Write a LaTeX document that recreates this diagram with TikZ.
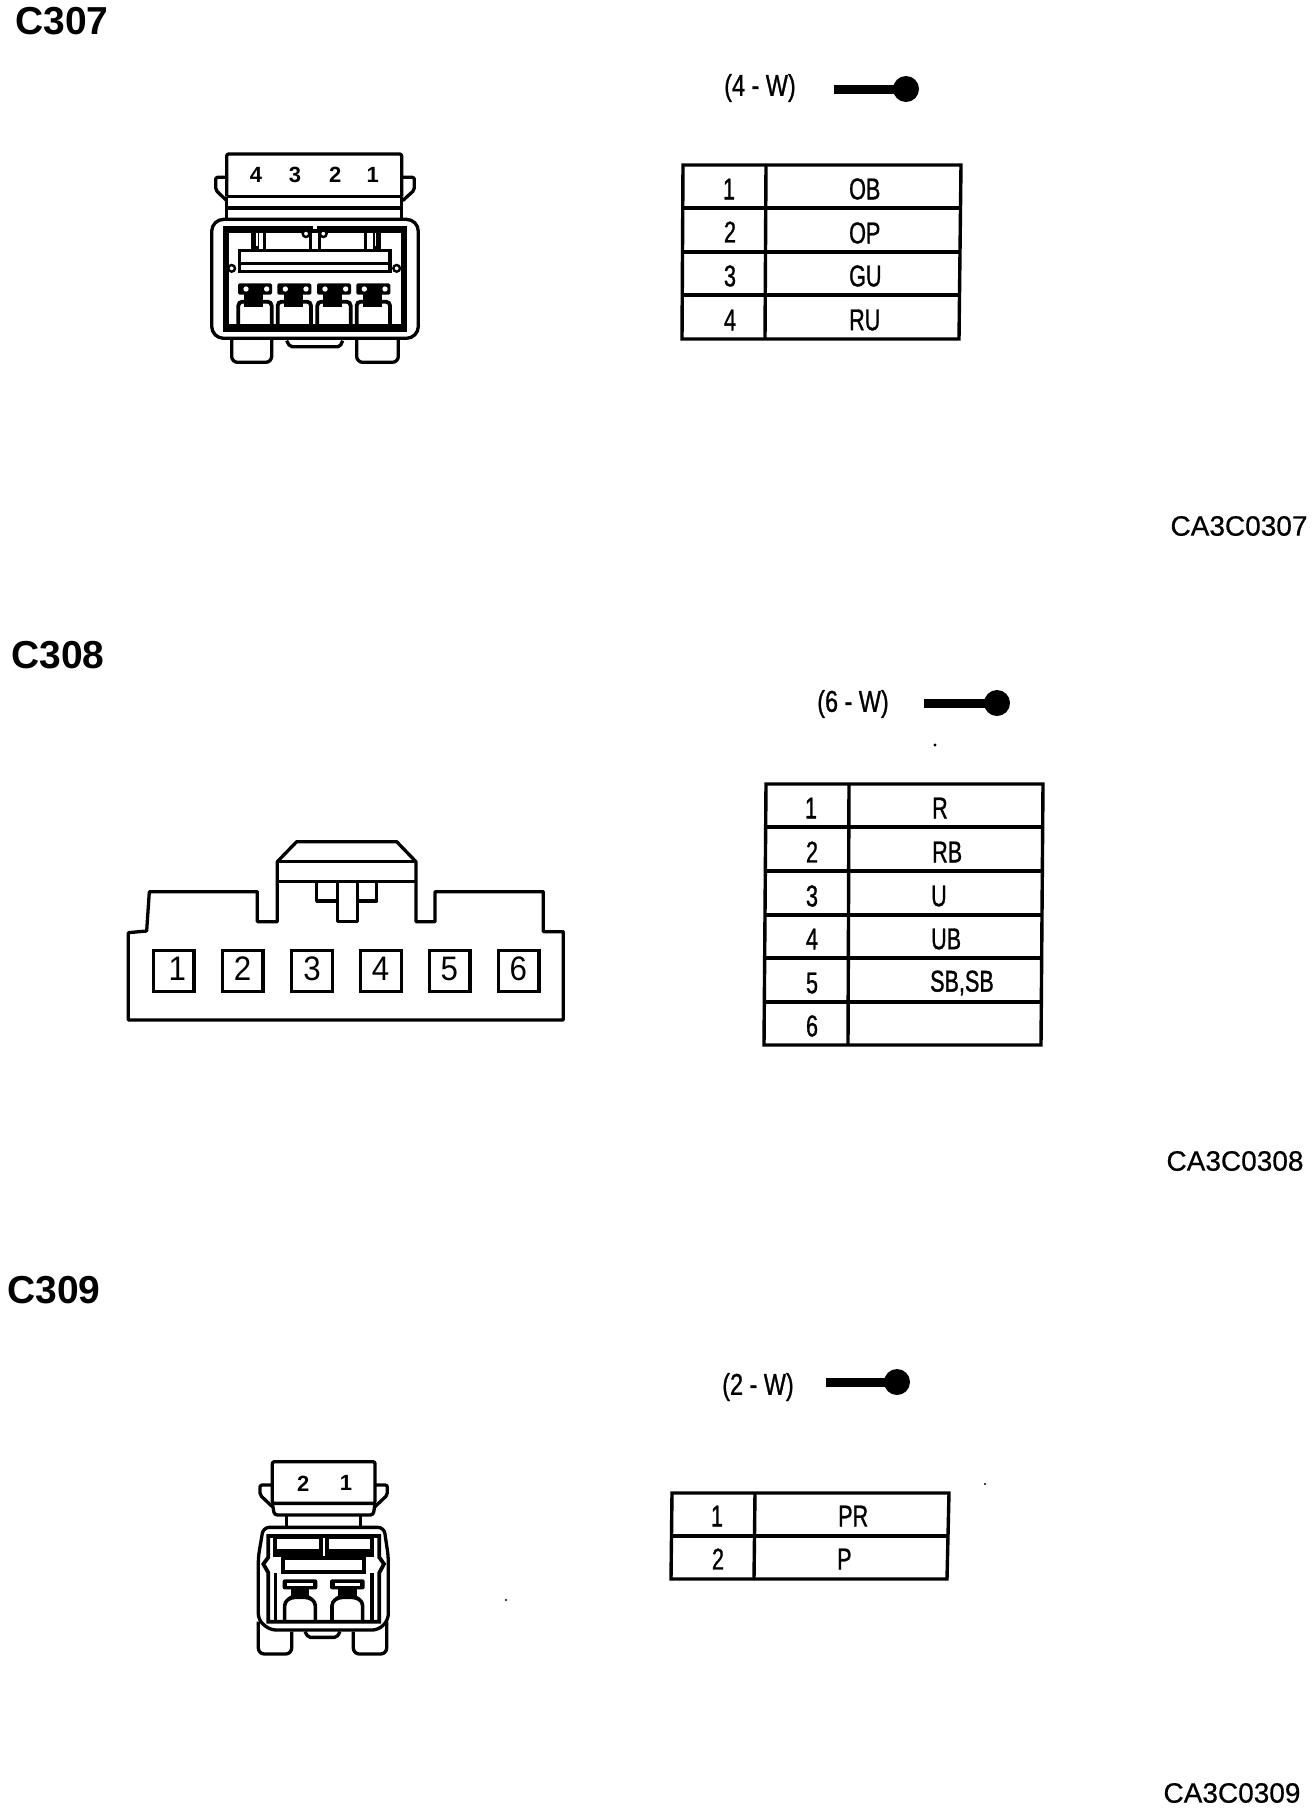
\documentclass[tikz,border=0pt]{standalone}
\usepackage{fontspec}
\setmainfont{Liberation Sans}
\newfontfamily\heavyfont[FakeBold=1.2]{Liberation Sans}
\newfontfamily\semifont[FakeBold=.6]{Liberation Sans}
\tikzset{
  ln/.style={line width=3.3pt,line join=round},
  tbl/.style={line width=3.4pt,line join=miter},
  lab/.style={font=\fontsize{39}{40}\selectfont\bfseries,inner sep=0pt},
  code/.style={font=\semifont\fontsize{28}{29}\selectfont,inner sep=0pt},
  cell/.style={font=\heavyfont\fontsize{30}{30}\selectfont,inner sep=0pt,xscale=.72},
  cellv/.style={cell,anchor=west},
  wire/.style={font=\heavyfont\fontsize{30}{30}\selectfont,inner sep=0pt,xscale=.78},
  pinb/.style={font=\fontsize{22}{23}\selectfont\bfseries,inner sep=0pt},
  pinc/.style={font=\fontsize{34}{35}\selectfont,inner sep=0pt,xscale=.92},
  speck/.style={fill=black,draw=none},
}
\newcommand{\ballmark}[3]{% x start, y, x centre
  \draw[line width=9pt] (#1,#2) -- (#3,#2);
  \fill (#3,#2) circle (13);
}
\newcommand{\termfour}[1]{% C307 terminal, centred at zoomed x
  \begin{scope}[shift={(#1*1pt/3,0)}]
    \fill[rounded corners=1.5pt] (-51,460) rectangle (51,494);
    \fill[white] (-27,477) circle (8) (35,477) circle (8);
    \fill (-32,492) rectangle (25,530);
    \draw[line width=3.8pt,rounded corners=4pt] (-50,592) -- (-50,515) -- (50,515) -- (50,592);
  \end{scope}
}
\newcommand{\termtwo}[1]{% C309 terminal
  \begin{scope}[shift={(#1*1pt/3,0)}]
    \fill[rounded corners=2pt] (-52,388) rectangle (52,418);
    \fill[white] (-38,398) rectangle (38,407);
    \fill (-28,418) rectangle (28,445);
    \draw[line width=3.6pt,rounded corners=4pt] (-46,510) -- (-46,455) -- (-26,442) -- (26,442) -- (46,455) -- (46,510);
  \end{scope}
}
\begin{document}
\begin{tikzpicture}[x=1pt,y=-1pt]
\useasboundingbox (0,0) rectangle (1312,1808);
\fill[white] (0,0) rectangle (1312,1808);

% ---------- headings and codes ----------
\node[lab] (h307) at (62,21) {C307};
\node[lab] (h308) at (58,655) {C308};
\node[lab] (h309) at (54,1290) {C309};
\node[code] (c307) at (1239,526) {CA3C0307};
\node[code] (c308) at (1235,1161) {CA3C0308};
\node[code] (c309) at (1232,1793) {CA3C0309};

% ---------- wire marks ----------
\node[wire] (w307) at (760,88) {(4 - W)};
\ballmark{834}{89}{906}
\node[wire] (w308) at (853,704) {(6 - W)};
\ballmark{924}{703}{997}
\node[wire] (w309) at (758,1387) {(2 - W)};
\ballmark{826}{1382}{897}

% ---------- table C307 ----------
\draw[tbl] (683,165) -- (961,165) -- (959,339) -- (682,339) -- cycle;
\draw[tbl] (766,165) -- (765,339);
\draw[tbl] (683,208) -- (960,208);
\draw[tbl] (682,252) -- (960,252);
\draw[tbl] (682,295) -- (959,295);
\node[cell] (a1) at (729,189) {1};
\node[cell] (a2) at (730,232) {2};
\node[cell] (a3) at (730,276) {3};
\node[cell] (a4) at (730,320) {4};
\node[cellv] (av1) at (849,189) {OB};
\node[cellv] (av2) at (849,233) {OP};
\node[cellv] (av3) at (849,276) {GU};
\node[cellv] (av4) at (849,320) {RU};

% ---------- table C308 ----------
\draw[tbl] (766,784) -- (1043,784) -- (1041,1045) -- (764,1045) -- cycle;
\draw[tbl] (849,784) -- (848,1045);
\draw[tbl] (766,827) -- (1043,827);
\draw[tbl] (765,871) -- (1042,871);
\draw[tbl] (765,915) -- (1042,915);
\draw[tbl] (765,958) -- (1041,958);
\draw[tbl] (764,1002) -- (1041,1002);
\node[cell] (b1) at (811,808) {1};
\node[cell] (b2) at (812,852) {2};
\node[cell] (b3) at (812,896) {3};
\node[cell] (b4) at (812,939) {4};
\node[cell] (b5) at (812,983) {5};
\node[cell] (b6) at (812,1026) {6};
\node[cellv] (bv1) at (932,808) {R};
\node[cellv] (bv2) at (932,852) {RB};
\node[cellv] (bv3) at (931,896) {U};
\node[cellv] (bv4) at (931,939) {UB};
\node[cellv] (bv5) at (930,983) {SB,SB};

% ---------- table C309 ----------
\draw[tbl] (672,1493) -- (949,1493) -- (947,1579) -- (671,1579) -- cycle;
\draw[tbl] (755,1493) -- (754,1579);
\draw[tbl] (672,1536) -- (948,1536);
\node[cell] (d1) at (717,1516) {1};
\node[cell] (d2) at (718,1559) {2};
\node[cellv] (dv1) at (838,1516) {PR};
\node[cellv] (dv2) at (837,1559) {P};

% specks
\fill[speck] (935,745) circle (1.6) (985,1484) circle (1.2) (506,1600) circle (1.2);

% ---------- connector C307 ----------
\begin{scope}[shift={(180pt,-130pt)},x=1pt/3,y=-1pt/3]
  \draw[ln,rounded corners=2pt] (140,200) -- (140,72) -- (665,72) -- (665,200);
  \draw[ln] (140,200) -- (665,200) (140,234) -- (665,234);
  \draw[ln] (140,200) -- (140,268) (665,200) -- (665,268);
  \draw[ln,rounded corners=2pt] (140,142) -- (107,142) -- (107,180) -- (140,212);
  \draw[ln,rounded corners=2pt] (665,142) -- (703,142) -- (703,180) -- (668,212);
  \draw[ln,rounded corners=12pt] (95,268) rectangle (715,625);
  \draw[line width=6.5pt] (138,298) rectangle (672,592);
  \fill (128,582) rectangle (682,606);
  % posts under the top bar
  \fill (213,298) rectangle (237,362);
  \fill (578,298) rectangle (603,362);
  \fill[white] (229,308) rectangle (234,348);
  \fill[white] (584,308) rectangle (589,348);
  \draw[line width=3pt] (252,305) -- (252,362) (392,305) -- (392,362);
  \draw[line width=3pt] (418,305) -- (418,362) (557,305) -- (557,362);
  \fill (237,288) rectangle (578,310);
  \fill[white] (398,289) rectangle (412,296);
  \draw[line width=2.4pt,fill=white] (378,311) circle (10) (430,311) circle (10);
  % bar
  \draw[line width=3.4pt] (178,362) rectangle (630,425);
  \draw[line width=3.4pt] (178,400) -- (630,400);
  \draw[line width=2.4pt,fill=white] (155,415) circle (10) (650,415) circle (10);
  % terminals
  \termfour{225}
  \termfour{343}
  \termfour{462}
  \termfour{580}
  % feet
  \draw[ln,rounded corners=6pt] (155,628) -- (155,697) -- (275,697) -- (275,628);
  \draw[ln,rounded corners=6pt] (530,628) -- (530,697) -- (655,697) -- (655,628);
  \draw[ln,rounded corners=2pt] (320,632) -- (330,650) -- (480,650) -- (488,632);
  \node[pinb] (p4) at (228,135) {4};
  \node[pinb] (p3) at (345,135) {3};
  \node[pinb] (p2) at (466,135) {2};
  \node[pinb] (p1) at (578,135) {1};
\end{scope}

% ---------- connector C308 ----------
\begin{scope}[shift={(110pt,-820pt)},x=1pt/3,y=-1pt/3]
  \draw[ln] (55,338) -- (110,333) -- (118,215) -- (442,215) -- (442,305) -- (502,305) -- (502,125)
    -- (560,65) -- (860,65) -- (918,125) -- (918,305) -- (975,305) -- (975,215) -- (1300,215)
    -- (1300,335) -- (1360,335) -- (1360,600) -- (55,600) -- cycle;
  \draw[ln] (502,125) -- (918,125) (502,185) -- (918,185);
  \draw[ln] (620,185) -- (620,243) -- (682,243) (800,185) -- (800,243) -- (742,243);
  \draw[ln] (682,188) -- (682,305) -- (742,305) -- (742,188);
  \foreach \xa/\dx/\n in {130/72/1,337/61/2,545/61/3,752/60/4,958/60/5,1165/60/6}{
    \draw[line width=3.6pt] (\xa,392) rectangle (\xa+122,515);
    \node[pinc] (q\n) at (\xa+\dx,447) {\n};
  }
\end{scope}

% ---------- connector C309 ----------
\begin{scope}[shift={(240pt,-1450pt)},x=1pt/3,y=-1pt/3]
  \draw[ln,rounded corners=2pt] (97,160) -- (97,35) -- (405,35) -- (405,160) -- cycle;
  \draw[ln,rounded corners=3pt] (97,160) -- (103,195) -- (400,195) -- (405,160);
  \draw[ln] (140,195) -- (140,232) (362,195) -- (362,232);
  \draw[ln,rounded corners=2pt] (97,105) -- (60,105) -- (60,135) -- (97,170);
  \draw[ln,rounded corners=2pt] (405,105) -- (442,105) -- (442,135) -- (405,170);
  \draw[ln,rounded corners=6pt] (70,232) -- (432,232) -- (445,320) -- (445,510) -- (415,540)
    -- (90,540) -- (55,510) -- (55,320) -- cycle;
  \draw[line width=3.8pt] (85,258) -- (85,322) -- (70,342) -- (85,368) -- (85,515) -- (418,515) -- (418,368)
    -- (432,342) -- (418,322) -- (418,258) -- cycle;
  \draw[line width=3.8pt] (106,262) rectangle (243,302) (260,262) rectangle (396,302);
  \draw[line width=3.8pt] (106,302) -- (106,315) -- (243,315) (396,302) -- (396,315) -- (260,315);
  \draw[line width=3.8pt] (243,302) -- (243,325) (260,302) -- (260,325);
  \draw[line width=3.8pt] (130,325) rectangle (372,365);
  \draw[line width=3.6pt] (106,370) -- (106,512) (396,370) -- (396,512);
  \termtwo{180}
  \termtwo{322}
  \draw[ln,rounded corners=6pt] (55,515) -- (55,612) -- (155,612) -- (155,545);
  \draw[ln,rounded corners=6pt] (340,545) -- (340,612) -- (440,612) -- (440,515);
  \draw[ln,rounded corners=2pt] (195,545) -- (205,562) -- (290,562) -- (300,545);
  \node[pinb] (r2) at (190,100) {2};
  \node[pinb] (r1) at (318,100) {1};
\end{scope}
\end{tikzpicture}
\end{document}
